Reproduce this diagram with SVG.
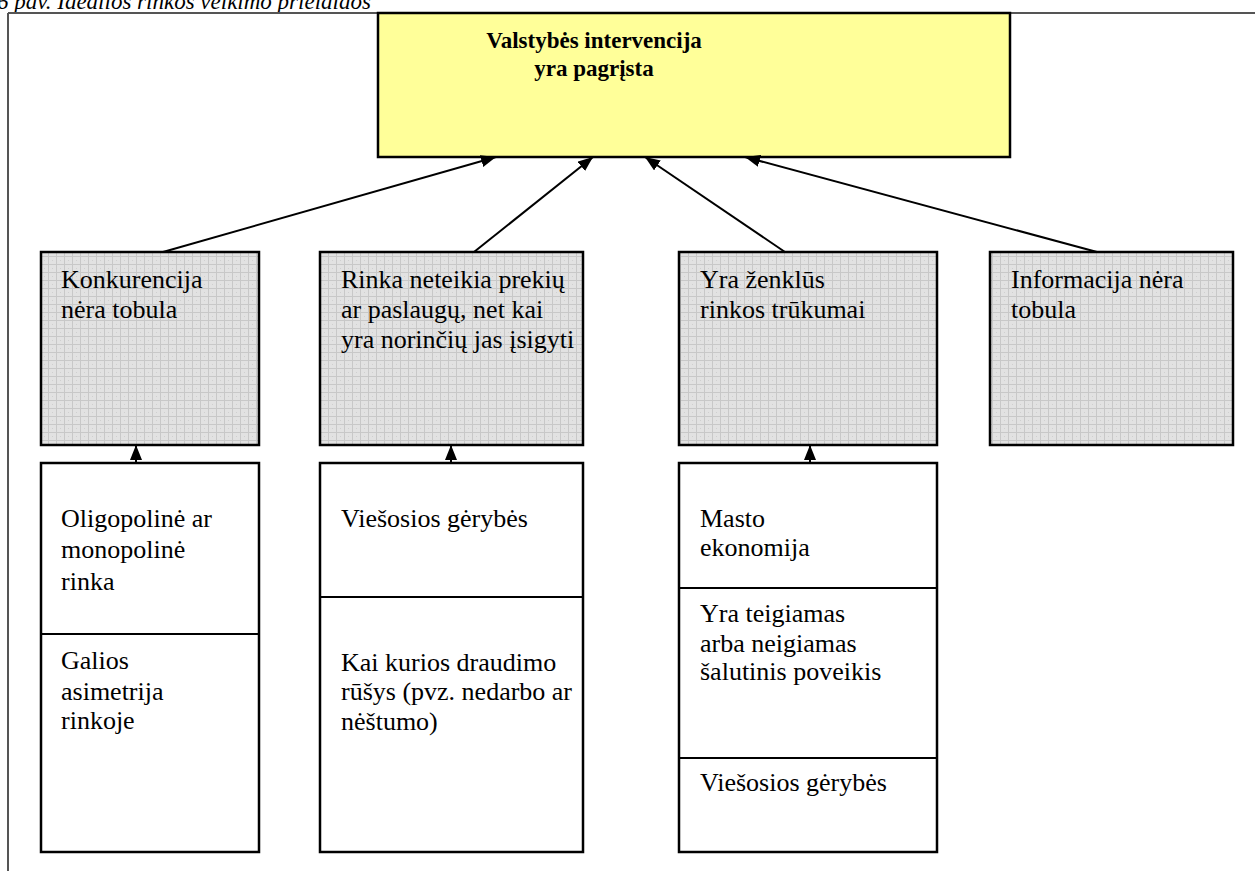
<svg xmlns="http://www.w3.org/2000/svg" width="1255" height="871" viewBox="0 0 1255 871">
  <style>
    .txt { font-family: "Liberation Serif", "Times New Roman", serif; font-size: 26px; fill: #000; }
    .ttl { font-family: "Liberation Serif", "Times New Roman", serif; font-size: 23px; font-weight: bold; fill: #000; }
    .cap { font-family: "Liberation Serif", "Times New Roman", serif; font-size: 23px; font-style: italic; fill: #000; }
    .box { stroke: #000; stroke-width: 2.5; }
    .grey { fill: url(#grid); }
    .white { fill: #fff; }
    .yellow { fill: #ffff99; }
    .conn { stroke: #000; stroke-width: 2; fill: none; marker-end: url(#arr); }
    .div { stroke: #000; stroke-width: 2; }
  </style>
  <defs>
    <pattern id="grid" width="8" height="8" patternUnits="userSpaceOnUse">
      <rect width="8" height="8" fill="#e2e2e2"/>
      <path d="M0 0.5H8M0.5 0V8" stroke="#c8c8c8" stroke-width="1"/>
      <rect x="4" y="4" width="1" height="1" fill="#d0d0d0"/>
    </pattern>
    <marker id="arr" viewBox="0 0 10 8" refX="10" refY="4" markerWidth="7.5" markerHeight="6" markerUnits="strokeWidth" orient="auto">
      <path d="M0 0L10 4L0 8z" fill="#000"/>
    </marker>
  </defs>

  <!-- caption, partly cut off at the top -->
  <text class="cap" x="-3" y="9">6 pav. Idealios rinkos veikimo prielaidos</text>

  <!-- page frame -->
  <g id="frame">
    <path d="M8 13H1255M8 13V871" stroke="#555" stroke-width="2" fill="none"/>
  </g>

  <!-- top node -->
  <g id="n-top">
    <rect class="box yellow" x="378" y="13" width="632" height="144"/>
    <text class="ttl" x="594" y="48" text-anchor="middle">Valstybės intervencija</text>
    <text class="ttl" x="594" y="76" text-anchor="middle">yra pagrįsta</text>
  </g>

  <!-- second row -->
  <g id="n-konkurencija">
    <rect class="box grey" x="41" y="252" width="218" height="193"/>
    <text class="txt" x="61" y="288">Konkurencija</text>
    <text class="txt" x="61" y="318">nėra tobula</text>
  </g>
  <g id="n-rinka">
    <rect class="box grey" x="320" y="252" width="263" height="193"/>
    <text class="txt" x="341" y="288">Rinka neteikia prekių</text>
    <text class="txt" x="341" y="318">ar paslaugų, net kai</text>
    <text class="txt" x="341" y="348">yra norinčių jas įsigyti</text>
  </g>
  <g id="n-trukumai">
    <rect class="box grey" x="679" y="252" width="258" height="193"/>
    <text class="txt" x="700" y="288">Yra ženklūs</text>
    <text class="txt" x="700" y="318">rinkos trūkumai</text>
  </g>
  <g id="n-informacija">
    <rect class="box grey" x="990" y="252" width="243" height="193"/>
    <text class="txt" x="1011" y="288">Informacija nėra</text>
    <text class="txt" x="1011" y="318">tobula</text>
  </g>

  <!-- third row -->
  <g id="n-col1">
    <rect class="box white" x="41" y="463" width="218" height="389"/>
    <line class="div" x1="41" y1="634" x2="259" y2="634"/>
    <text class="txt" x="61" y="527">Oligopolinė ar</text>
    <text class="txt" x="61" y="558">monopolinė</text>
    <text class="txt" x="61" y="590">rinka</text>
    <text class="txt" x="61" y="669">Galios</text>
    <text class="txt" x="61" y="700">asimetrija</text>
    <text class="txt" x="61" y="729">rinkoje</text>
  </g>
  <g id="n-col2">
    <rect class="box white" x="320" y="463" width="263" height="389"/>
    <line class="div" x1="320" y1="597" x2="583" y2="597"/>
    <text class="txt" x="341" y="527">Viešosios gėrybės</text>
    <text class="txt" x="341" y="671">Kai kurios draudimo</text>
    <text class="txt" x="341" y="700">rūšys (pvz. nedarbo ar</text>
    <text class="txt" x="341" y="730">nėštumo)</text>
  </g>
  <g id="n-col3">
    <rect class="box white" x="679" y="463" width="258" height="389"/>
    <line class="div" x1="679" y1="588" x2="937" y2="588"/>
    <line class="div" x1="679" y1="758" x2="937" y2="758"/>
    <text class="txt" x="700" y="527">Masto</text>
    <text class="txt" x="700" y="556">ekonomija</text>
    <text class="txt" x="700" y="622">Yra teigiamas</text>
    <text class="txt" x="700" y="652">arba neigiamas</text>
    <text class="txt" x="700" y="680">šalutinis poveikis</text>
    <text class="txt" x="700" y="791">Viešosios gėrybės</text>
  </g>

  <!-- connectors -->
  <g id="connectors">
    <line class="conn" x1="163" y1="252" x2="496" y2="157"/>
    <line class="conn" x1="474" y1="252" x2="593" y2="157"/>
    <line class="conn" x1="785" y1="252" x2="645" y2="157"/>
    <line class="conn" x1="1097" y1="252" x2="745" y2="157"/>
    <line class="conn" x1="136" y1="463" x2="136" y2="445"/>
    <line class="conn" x1="451" y1="463" x2="451" y2="445"/>
    <line class="conn" x1="810" y1="463" x2="810" y2="445"/>
  </g>
</svg>
